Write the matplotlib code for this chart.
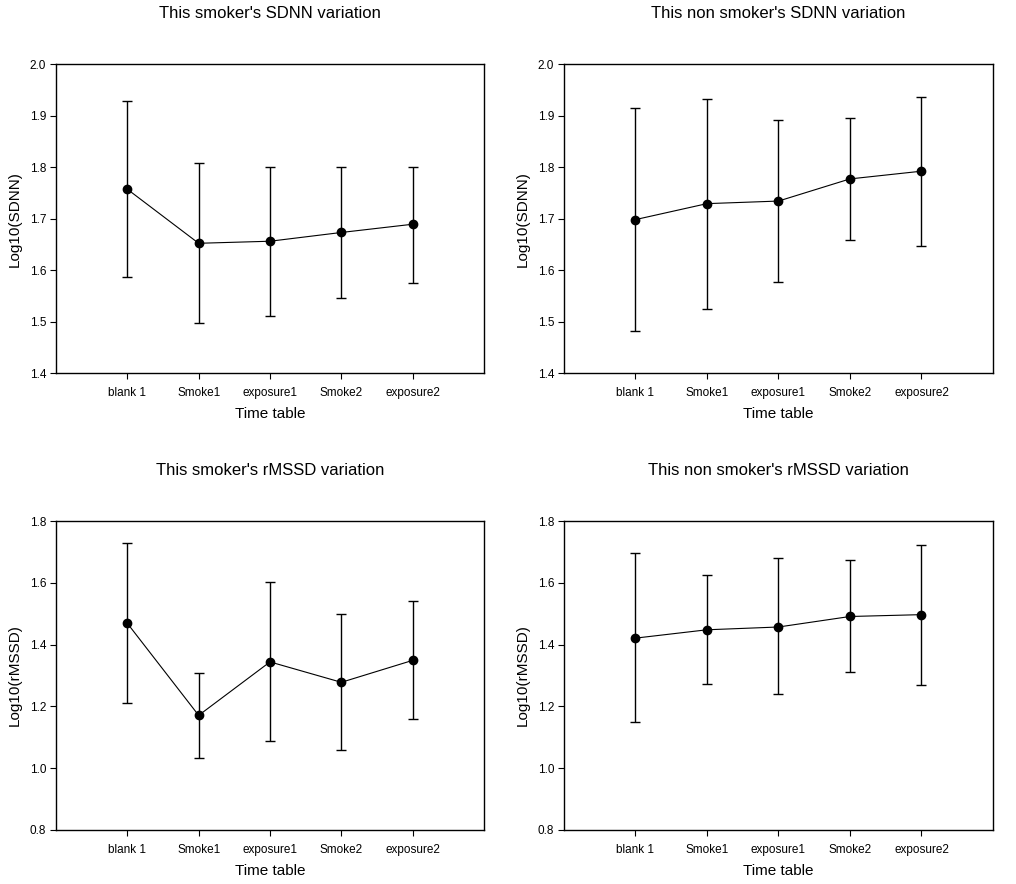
import matplotlib
matplotlib.use('Agg')
import matplotlib.pyplot as plt
import numpy as np

plt.rcParams['font.family'] = ['Liberation Sans', 'DejaVu Sans']

# Time points on the x axis
stages = ['blank 1', 'Smoke1', 'exposure1', 'Smoke2', 'exposure2']

# Smoker SDNN (log10): mean, lower and upper end of the error bar
smoker_sdnn = [1.757, 1.652, 1.656, 1.673, 1.689]
smoker_sdnn_lo = [1.586, 1.497, 1.511, 1.546, 1.575]
smoker_sdnn_hi = [1.929, 1.807, 1.801, 1.801, 1.801]

# Non smoker SDNN (log10)
non_sdnn = [1.698, 1.729, 1.734, 1.777, 1.792]
non_sdnn_lo = [1.481, 1.524, 1.577, 1.658, 1.646]
non_sdnn_hi = [1.915, 1.932, 1.891, 1.895, 1.937]

# Smoker rMSSD (log10)
smoker_rmssd = [1.469, 1.171, 1.344, 1.278, 1.349]
smoker_rmssd_lo = [1.210, 1.032, 1.087, 1.058, 1.158]
smoker_rmssd_hi = [1.728, 1.309, 1.602, 1.498, 1.540]

# Non smoker rMSSD (log10)
non_rmssd = [1.421, 1.448, 1.457, 1.491, 1.497]
non_rmssd_lo = [1.148, 1.271, 1.239, 1.310, 1.268]
non_rmssd_hi = [1.695, 1.624, 1.679, 1.673, 1.724]

fig = plt.figure(figsize=(10.16, 8.84), dpi=100)

# axes boxes in figure fractions (left, bottom, width, height)
boxes = [
    [0.0551, 0.578, 0.4213, 0.3495],
    [0.5551, 0.578, 0.4222, 0.3495],
    [0.0551, 0.0611, 0.4213, 0.3495],
    [0.5551, 0.0611, 0.4222, 0.3495],
]

panels = [
    ("This smoker's SDNN variation", 'Log10(SDNN)', smoker_sdnn, smoker_sdnn_lo, smoker_sdnn_hi, (1.4, 2.0), np.arange(1.4, 2.01, 0.1)),
    ("This non smoker's SDNN variation", 'Log10(SDNN)', non_sdnn, non_sdnn_lo, non_sdnn_hi, (1.4, 2.0), np.arange(1.4, 2.01, 0.1)),
    ("This smoker's rMSSD variation", 'Log10(rMSSD)', smoker_rmssd, smoker_rmssd_lo, smoker_rmssd_hi, (0.8, 1.8), np.arange(0.8, 1.81, 0.2)),
    ("This non smoker's rMSSD variation", 'Log10(rMSSD)', non_rmssd, non_rmssd_lo, non_rmssd_hi, (0.8, 1.8), np.arange(0.8, 1.81, 0.2)),
]

x = np.arange(1, len(stages) + 1)

for box, (title, ylab, mean, lo, hi, ylim, yticks) in zip(boxes, panels):
    ax = fig.add_axes(box)
    mean = np.array(mean)
    err = [mean - np.array(lo), np.array(hi) - mean]
    ax.errorbar(x, mean, yerr=err, fmt='-o', color='black', ecolor='black',
                linewidth=0.8, elinewidth=1.0, capsize=3.5, capthick=1.0,
                markersize=6)
    ax.set_xlim(0, 6)
    ax.set_ylim(*ylim)
    ax.set_xticks(x)
    ax.set_xticklabels(stages)
    ax.set_yticks(yticks)
    ax.set_yticklabels(['%.1f' % t for t in yticks])
    ax.tick_params(direction='out', length=4, width=0.8, labelsize=8.5, pad=3,
                   colors='black')
    ax.tick_params(axis='x', pad=6)
    for s in ax.spines.values():
        s.set_linewidth(1.0)
    ax.set_xlabel('Time table', fontsize=11, labelpad=6)
    ax.set_ylabel(ylab, fontsize=11, labelpad=6)
    ax.set_title(title, fontsize=12, pad=33)

fig.savefig('out.png', dpi=100)
